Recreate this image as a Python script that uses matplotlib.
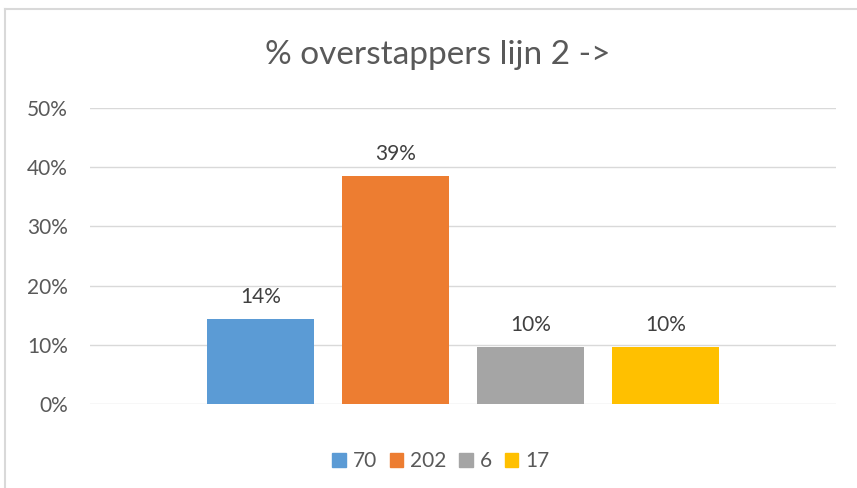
import matplotlib
matplotlib.use("Agg")
import matplotlib.pyplot as plt
from matplotlib.ticker import PercentFormatter
from matplotlib.lines import Line2D

series = ["70", "202", "6", "17"]
values = [0.144, 0.385, 0.097, 0.097]
labels = ["14%", "39%", "10%", "10%"]
colors = ["#5B9BD5", "#ED7D31", "#A5A5A5", "#FFC000"]
yticks = [0, 0.1, 0.2, 0.3, 0.4, 0.5]

W, H = 857, 488
plt.rcParams['font.family'] = ['Lato', 'DejaVu Sans']
fig = plt.figure(figsize=(W / 100, H / 100), dpi=100)
ax = fig.add_axes([90 / W, 84 / H, (836 - 90) / W, (404 - 108) / H])

step = 135 / 746
width = 107 / 746
for i, (s, v, lab, c) in enumerate(zip(series, values, labels, colors)):
    x = (i - 1.5) * step
    ax.bar(x, v, width=width, color=c, label=s, zorder=3)
    ax.text(x, v + 0.02, lab, ha="center", va="bottom", fontsize=15, color="#404040")

ax.set_xlim(-0.5, 0.5)
ax.set_ylim(0, 0.5)
ax.set_yticks(yticks)
ax.yaxis.set_major_formatter(PercentFormatter(1.0, decimals=0))
ax.set_xticks([])
ax.grid(axis="y", color="#D9D9D9", linewidth=1, zorder=0)
for sp in ax.spines.values():
    sp.set_visible(False)
ax.tick_params(axis="y", length=0, pad=16, labelsize=15, labelcolor="#595959")

fig.text(438 / W, 1 - 55 / H, "% overstappers lijn 2 ->", ha="center", va="center",
         fontsize=24, color="#595959")

handles = [plt.Rectangle((0, 0), 1, 1, color=c) for c in colors]
fig.legend(handles, series, loc="center", bbox_to_anchor=(441 / W, 1 - 461 / H), ncol=4,
           frameon=False, fontsize=15, labelcolor="#595959", handlelength=0.65,
           handleheight=0.65, handletextpad=0.35, columnspacing=0.6)

fig.add_artist(Line2D([5 / W, 5 / W], [0, 1 - 9 / H], transform=fig.transFigure, color="#D9D9D9", lw=1.5))
fig.add_artist(Line2D([5 / W, 1], [1 - 9 / H, 1 - 9 / H], transform=fig.transFigure, color="#D9D9D9", lw=1.5))

fig.savefig("out.png", dpi=100)
